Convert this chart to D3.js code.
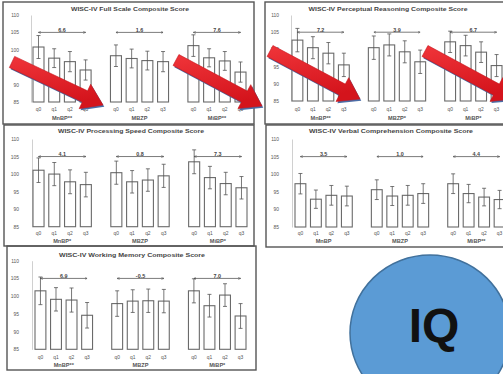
<!DOCTYPE html>
<html><head><meta charset="utf-8">
<script src="https://cdn.jsdelivr.net/npm/d3@7/dist/d3.min.js"></script>
<style>html,body{margin:0;padding:0;background:#fff;}svg{display:block;font-family:"Liberation Sans",Arial,sans-serif;}</style>
</head><body>
<script>
// ---------- DATA ----------
const quarters = ["q0","q1","q2","q3"];
const yTicks = [85,90,95,100,105,110];
const titles = [
  "WISC-IV Full Scale Composite Score",
  "WISC-IV Perceptual Reasoning Composite Score",
  "WISC-IV Processing Speed Composite Score",
  "WISC-IV Verbal Comprehension Composite Score",
  "WISC-IV Working Memory Composite Score"
];
const groupLabels = [
  ["MnBP**","MBZP","MiBP**"],
  ["MnBP**","MBZP*","MiBP*"],
  ["MnBP*","MBZP","MiBP*"],
  ["MnBP","MBZP","MiBP**"],
  ["MnBP**","MBZP","MiBP*"]
];
const fullScaleMeans   = [[100.8,97.6,96.6,94.2],[98.3,97.5,96.9,96.6],[101.2,97.7,96.8,93.6]];
const fullScaleErr     = [[3.3,2.7,2.9,2.9],[3.1,2.7,2.7,2.9],[3.1,2.6,2.7,2.9]];
const perceptualMeans  = [[102.7,100.5,98.9,95.5],[100.5,101.3,99.3,96.4],[102.2,101.1,99.2,95.3]];
const perceptualErr    = [[3.4,3.2,3.1,3.4],[3.4,3.2,3.2,3.4],[3.1,3.0,3.0,3.2]];
const procSpeedMeans   = [[101.1,100.0,97.8,97.0],[100.4,97.8,98.3,99.5],[103.5,99.0,97.3,96.1]];
const procSpeedErr     = [[3.5,3.3,3.4,3.5],[3.3,3.2,3.2,3.3],[3.4,3.2,3.2,3.2]];
const verbalMeans      = [[97.3,92.9,94.0,93.8],[95.6,93.8,94.0,94.5],[97.3,94.5,93.5,92.8]];
const verbalErr        = [[2.9,2.6,2.8,2.8],[2.8,2.7,2.8,2.8],[2.8,2.6,2.5,2.6]];
const workMemMeans     = [[101.5,99.1,98.9,94.6],[97.9,98.6,98.7,98.6],[101.5,97.3,100.3,94.4]];
const workMemErr       = [[3.9,3.3,3.4,3.6],[3.6,3.2,3.3,3.3],[3.4,3.2,3.2,3.5]];
const diffLabels = [
  ["6.6","1.6","7.6"],
  ["7.2","3.9","6.7"],
  ["4.1","0.8","7.3"],
  ["3.5","1.0","4.4"],
  ["6.9","-0.5","7.0"]
];
const diffLevel = 105;
const ellipseLabel = "IQ";

// ---------- LAYOUT ----------
const W = 503, H = 374;
const layout = [
  {box:[3,2,254,124],   titleX:130, titleY:10.5, titleW:118, y110:15,  y85:102,  x:[33,246],  axisX:31,  tickX:19,  qY:111, gY:119.5},
  {box:[265,2,512,124], titleX:388, titleY:10.5, titleW:159, y110:15,  y85:101,  x:[292,502], axisX:291, tickX:279, qY:111, gY:119.5},
  {box:[4,125,254,246], titleX:131, titleY:132.5,titleW:146, y110:139, y85:226.7,x:[33,247],  axisX:32,  tickX:19,  qY:235, gY:242.5},
  {box:[266,125,512,247],titleX:391,titleY:132.5,titleW:164, y110:139, y85:227,  x:[295,505], axisX:292, tickX:279, qY:235, gY:242.5},
  {box:[7,246,256,370], titleX:132, titleY:256.5,titleW:146, y110:260.7,y85:349.3,x:[35,246], axisX:32,  tickX:19,  qY:359, gY:366.5}
];
const allMeans = [fullScaleMeans, perceptualMeans, procSpeedMeans, verbalMeans, workMemMeans];
const allErr = [fullScaleErr, perceptualErr, procSpeedErr, verbalErr, workMemErr];

const svg = d3.select("body").append("svg").attr("width",W).attr("height",H);
svg.append("rect").attr("width",W).attr("height",H).attr("fill","#fff");

const defs = svg.append("defs");
defs.append("marker").attr("id","ah").attr("viewBox","0 0 10 10").attr("refX",9).attr("refY",5)
  .attr("markerWidth",4).attr("markerHeight",4).attr("orient","auto-start-reverse")
  .append("path").attr("d","M0,1 L10,5 L0,9").attr("fill","none").attr("stroke","#444").attr("stroke-width",1.6);
const grad = defs.append("linearGradient").attr("id","redg").attr("x1","0").attr("y1","0").attr("x2","0.3").attr("y2","1");
grad.append("stop").attr("offset","0").attr("stop-color","#f0353a");
grad.append("stop").attr("offset","1").attr("stop-color","#d4141c");

layout.forEach((L,pi)=>{
  const g = svg.append("g");
  const [x0,y0,x1,y1] = L.box;
  g.append("rect").attr("x",x0).attr("y",y0).attr("width",x1-x0).attr("height",y1-y0)
    .attr("fill","none").attr("stroke","#555").attr("stroke-width",1.4);
  g.append("text").attr("x",L.titleX).attr("y",L.titleY).attr("text-anchor","middle")
    .attr("font-size",6.2).attr("font-weight","bold").attr("fill","#444")
    .attr("textLength",L.titleW).attr("lengthAdjust","spacingAndGlyphs").text(titles[pi]);

  const y = d3.scaleLinear().domain([85,110]).range([L.y85,L.y110]);
  const gx = d3.scaleBand().domain(groupLabels[pi]).range(L.x).paddingInner(0.25).paddingOuter(0);
  const qx = d3.scaleBand().domain(quarters).range([0,gx.bandwidth()]).paddingInner(0.3).paddingOuter(0);

  // y axis
  const ax = g.append("g").attr("transform",`translate(${L.axisX},0)`)
    .call(d3.axisLeft(y).tickValues(yTicks).tickSize(0).tickPadding(L.axisX-L.tickX));
  ax.select(".domain").attr("stroke","#c4c4c4").attr("stroke-width",0.8);
  ax.selectAll("text").attr("font-size",4.9).attr("fill","#555").attr("font-family","Liberation Sans, Arial, sans-serif");

  groupLabels[pi].forEach((gl,gi)=>{
    const gg = g.append("g").attr("transform",`translate(${gx(gl)},0)`);
    const means = allMeans[pi][gi], errs = allErr[pi][gi];
    const d = quarters.map((q,i)=>({q, m:means[i], e:errs[i]}));
    gg.selectAll("rect.bar").data(d).join("rect").attr("class","bar")
      .attr("x",v=>qx(v.q)).attr("width",qx.bandwidth())
      .attr("y",v=>y(v.m)).attr("height",v=>y(85)-y(v.m))
      .attr("fill","#fff").attr("stroke","#6a6a6a").attr("stroke-width",1.1);
    const cx = v=>qx(v.q)+qx.bandwidth()/2;
    gg.selectAll("line.eb").data(d).join("line").attr("class","eb")
      .attr("x1",cx).attr("x2",cx).attr("y1",v=>y(v.m+v.e)).attr("y2",v=>y(v.m-v.e))
      .attr("stroke","#555").attr("stroke-width",0.8);
    ["+","-"].forEach(s=>{
      gg.selectAll("line.cap"+(s=="+"?"u":"l")).data(d).join("line").attr("class","cap"+(s=="+"?"u":"l"))
        .attr("x1",v=>cx(v)-2).attr("x2",v=>cx(v)+2)
        .attr("y1",v=>y(s=="+"?v.m+v.e:v.m-v.e)).attr("y2",v=>y(s=="+"?v.m+v.e:v.m-v.e))
        .attr("stroke","#555").attr("stroke-width",0.8);
    });
    gg.selectAll("text.q").data(d).join("text").attr("class","q")
      .attr("x",cx).attr("y",L.qY - L.y85 + y(85)).attr("text-anchor","middle")
      .attr("font-size",4.9).attr("fill","#555").text(v=>v.q);
    gg.append("text").attr("x",gx.bandwidth()/2).attr("y",L.gY).attr("text-anchor","middle")
      .attr("font-size",5.6).attr("font-weight","bold").attr("fill","#555").text(gl);
    // difference annotation
    const ya = y(diffLevel);
    const xa = cx(d[0]), xb = cx(d[3]);
    gg.append("line").attr("x1",xa).attr("x2",xb).attr("y1",ya).attr("y2",ya)
      .attr("stroke","#444").attr("stroke-width",0.7)
      .attr("marker-start","url(#ah)").attr("marker-end","url(#ah)");
    gg.append("text").attr("x",(xa+xb)/2).attr("y",ya-0.6).attr("text-anchor","middle")
      .attr("font-size",5.4).attr("font-weight","bold").attr("fill","#444").text(diffLabels[pi][gi]);
  });
});

// ---------- Decorative red arrows ----------
const redArrows = [
  {tail:[12,62], tip:[103,105]},
  {tail:[176,60], tip:[262,106]},
  {tail:[270,51], tip:[360,99]},
  {tail:[425,51], tip:[514,99]}
];
function arrowPts(a, sw, hw, hl){
  const [tx,ty]=a.tail,[px,py]=a.tip;
  const len=Math.hypot(px-tx,py-ty), ux=(px-tx)/len, uy=(py-ty)/len, nx=-uy, ny=ux;
  const kx=px-ux*hl, ky=py-uy*hl;
  return [[tx+nx*sw,ty+ny*sw],[kx+nx*sw,ky+ny*sw],[kx+nx*hw,ky+ny*hw],[px,py],
          [kx-nx*hw,ky-ny*hw],[kx-nx*sw,ky-ny*sw],[tx-nx*sw,ty-ny*sw]];
}
const arrG = svg.append("g");
redArrows.forEach(a=>{
  const pts = arrowPts(a,6.2,13.5,20);
  arrG.append("polygon").attr("points",pts.map(p=>[p[0]+1.3,p[1]+1.7].join(",")).join(" "))
    .attr("fill","#4a6ea8");
  arrG.append("polygon").attr("points",pts.map(p=>p.join(",")).join(" "))
    .attr("fill","url(#redg)").attr("stroke","#c4161c").attr("stroke-width",0.6);
});

// ---------- IQ ellipse ----------
svg.append("ellipse").attr("cx",430).attr("cy",333).attr("rx",80).attr("ry",78)
  .attr("fill","#5b9bd5").attr("stroke","#41719c").attr("stroke-width",1.5);
svg.append("text").attr("x",434).attr("y",342).attr("text-anchor","middle")
  .attr("font-size",48).attr("font-weight","900").attr("fill","#111")
  .attr("font-family","Liberation Sans, Arial, sans-serif").text(ellipseLabel);
</script>
</body></html>
